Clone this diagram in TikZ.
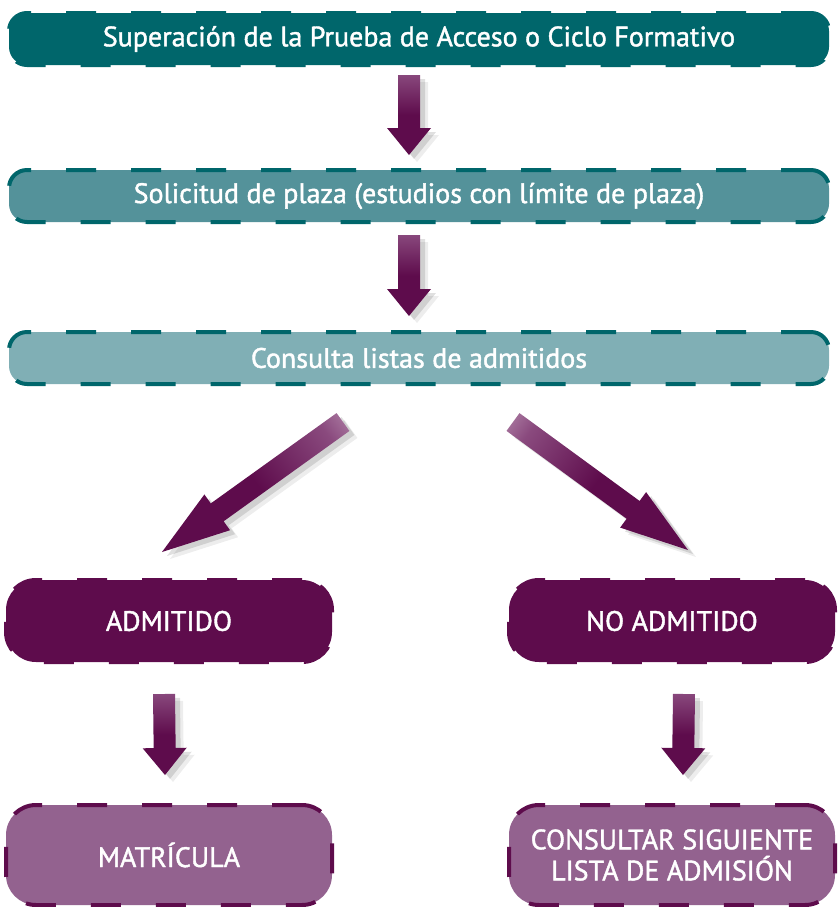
\documentclass[tikz,border=0pt]{standalone}
\usepackage{fontspec}
\setmainfont{PT Sans}
\newfontfamily\boxfont{PT Sans}[FakeBold=1.5]
\usetikzlibrary{calc}

\definecolor{tealdark}{HTML}{00666B}
\definecolor{tealmid}{HTML}{54929A}
\definecolor{teallight}{HTML}{80AFB5}
\definecolor{plumdark}{HTML}{5E0C4C}
\definecolor{plummid}{HTML}{93628F}
\definecolor{plumlight}{HTML}{E8D6E4}
\definecolor{plumhalf}{HTML}{8A4A7E}

\pgfdeclareverticalshading{arrowfade}{100bp}{color(0bp)=(plumdark); color(50bp)=(plumdark);
  color(76bp)=(plumhalf); color(100bp)=(plumlight)}

\tikzset{
  flowbox/.style={rounded corners=9pt, line width=2pt, dash pattern=on 15pt off 17.5pt,
    text=white, font=\boxfont\fontsize{14}{15.5}\selectfont, align=center,
    minimum height=26pt, minimum width=410pt, inner sep=0pt},
  tealbox/.style={flowbox, draw=tealdark, fill=#1},
  plumbox/.style={flowbox, draw=plumdark, fill=#1, rounded corners=15pt,
    minimum width=163pt, minimum height=41pt},
}

% thick shaded arrow: head length, shading angle, start, end
\newcommand\blockarrow[4]{%
  \coordinate (ba-s) at #3;
  \coordinate (ba-e) at #4;
  \coordinate (ba-h) at ($(ba-e)!#1!(ba-s)$);
  \coordinate (ba-a1) at ($(ba-s)!5.5pt!90:(ba-e)$);
  \coordinate (ba-a2) at ($(ba-s)!5.5pt!-90:(ba-e)$);
  \coordinate (ba-b1) at ($(ba-h)!5.5pt!90:(ba-e)$);
  \coordinate (ba-b2) at ($(ba-h)!5.5pt!-90:(ba-e)$);
  \coordinate (ba-c1) at ($(ba-h)!11pt!90:(ba-e)$);
  \coordinate (ba-c2) at ($(ba-h)!11pt!-90:(ba-e)$);
  \fill[black, opacity=.12, transform canvas={shift={(2.5pt,-2pt)}}]
    (ba-a1) -- (ba-b1) -- (ba-c1) -- (ba-e) -- (ba-c2) -- (ba-b2) -- (ba-a2) -- cycle;
  \fill[black, opacity=.07, transform canvas={shift={(4pt,-3.5pt)}}]
    (ba-a1) -- (ba-b1) -- (ba-c1) -- (ba-e) -- (ba-c2) -- (ba-b2) -- (ba-a2) -- cycle;
  \shade[shading=arrowfade, shading angle=#2]
    (ba-a1) -- (ba-b1) -- (ba-c1) -- (ba-e) -- (ba-c2) -- (ba-b2) -- (ba-a2) -- cycle;
}

\begin{document}
\begin{tikzpicture}[x=0.5pt, y=-0.5pt]
  \useasboundingbox (0,0) rectangle (838,907);

  \node[tealbox=tealdark] (access) at (419,39) {Superación de la Prueba de Acceso o Ciclo Formativo};
  \node[tealbox=tealmid] (request) at (419,196) {Solicitud de plaza (estudios con límite de plaza)};
  \node[tealbox=teallight] (lists) at (419,358) {Consulta listas de admitidos};

  \node[plumbox=plumdark] (admitted) at (169,621) {ADMITIDO};
  \node[plumbox=plumdark] (rejected) at (672,621) {NO ADMITIDO};
  \node[plumbox=plummid, minimum height=50pt] (enrol) at (169,855) {MATRÍCULA};
  \node[plumbox=plummid, minimum height=50pt] (nextlist) at (672,855) {CONSULTAR SIGUIENTE\\LISTA DE ADMISIÓN};

  \blockarrow{13.5pt}{0}{($(access.south)+(-10,8)$)}{($(request.north)+(-10,-13)$)}
  \blockarrow{13.5pt}{0}{($(request.south)+(-10,11)$)}{($(lists.north)+(-10,-14)$)}
  \blockarrow{34pt}{-53}{($(lists.south)+(-76,36)$)}{($(admitted.north)+(-7,-26)$)}
  \blockarrow{34pt}{53}{($(lists.south)+(94,36)$)}{($(rejected.north)+(16,-28)$)}
  \blockarrow{13.5pt}{0}{($(admitted.south)+(-5,30)$)}{($(enrol.north)+(-4,-28)$)}
  \blockarrow{13.5pt}{0}{($(rejected.south)+(12,30)$)}{($(nextlist.north)+(11,-28)$)}
\end{tikzpicture}
\end{document}
